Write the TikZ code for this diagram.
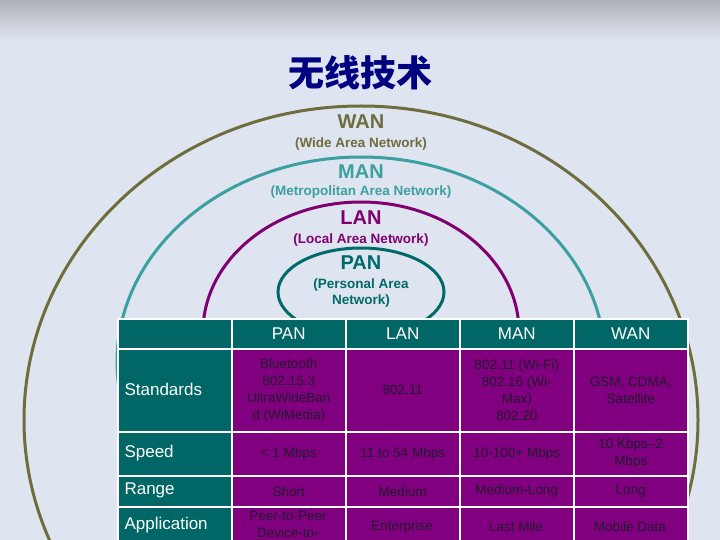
\documentclass[tikz,border=0pt]{standalone}
\usepackage{fontspec}
\setmainfont{Liberation Sans}
\newfontfamily\cjk{Noto Sans CJK SC}
\definecolor{bgc}{RGB}{222,228,240}
\definecolor{navyc}{RGB}{0,0,128}
\definecolor{wanc}{RGB}{110,110,60}
\definecolor{manc}{RGB}{60,160,160}
\definecolor{lanc}{RGB}{128,0,112}
\definecolor{panc}{RGB}{0,105,105}
\definecolor{hdc}{RGB}{0,102,102}
\definecolor{cellc}{RGB}{128,0,128}
\definecolor{cellt}{RGB}{35,25,45}
\newcommand{\mycell}[7]{%
  \node[draw=white,line width=1.5pt,fill=#6,minimum width=#4pt-#2pt,minimum height=#5pt-#3pt,inner sep=0pt,anchor=north west,align=center,ccell] (#1) at (#2,#3) {#7};}
\begin{document}
\begin{tikzpicture}[x=1pt,y=-1pt,
  ring/.style={line width=3pt},
  hd/.style={font=\bfseries\fontsize{20}{22}\selectfont},
  sub/.style={font=\bfseries\fontsize{13.5}{16}\selectfont},
  hcell/.style={text=white,font=\fontsize{17}{19}\selectfont},
  ccell/.style={text=cellt,font={\color{cellt}\fontsize{13.5}{17}\selectfont}}]
\useasboundingbox (0,0) rectangle (720,540);
\fill[bgc] (0,0) rectangle (720,540);
\fill[top color=gray!50!bgc,bottom color=bgc] (0,0) rectangle (720,40);
\node[font=\cjk\bfseries\fontsize{36}{40}\selectfont,text=navyc] (title) at (360,73) {无线技术};
\draw[ring,wanc] (361,420) ellipse (337 and 314);
\draw[ring,manc] (361,362) ellipse (244 and 205);
\draw[ring,lanc] (361,332) ellipse (158 and 130);
\draw[ring,panc] (361,292) ellipse (83 and 44);
\node[hd,text=wanc] (wan) at (361,122) {WAN};
\node[sub,text=wanc] (wans) at (361,144) {(Wide Area Network)};
\node[hd,text=manc] (man) at (361,172) {MAN};
\node[sub,text=manc] (mans) at (361,192) {(Metropolitan Area Network)};
\node[hd,text=lanc] (lan) at (361,218) {LAN};
\node[sub,text=lanc] (lans) at (361,240) {(Local Area Network)};
\node[hd,text=panc] (pan) at (361,263) {PAN};
\node[sub,text=panc,align=center] (pans) at (361,293) {(Personal Area\\Network)};
% header
\mycell{h0}{117}{318}{231}{348}{hdc}{}
\mycell{h1}{231}{318}{345}{348}{hdc}{}
\mycell{h2}{345}{318}{459}{348}{hdc}{}
\mycell{h3}{459}{318}{573}{348}{hdc}{}
\mycell{h4}{573}{318}{687}{348}{hdc}{}
\node[hcell] at (h1) {PAN};
\node[hcell] at (h2) {LAN};
\node[hcell] at (h3) {MAN};
\node[hcell] at (h4) {WAN};
% rows
\mycell{r1}{117}{348}{231}{431}{hdc}{}
\mycell{r1a}{231}{348}{345}{431}{cellc}{Bluetooth\\802.15.3\\UltraWideBan\\d (WiMedia)}
\mycell{r1b}{345}{348}{459}{431}{cellc}{802.11}
\mycell{r1c}{459}{348}{573}{431}{cellc}{802.11 (Wi-Fi)\\802.16 (Wi-\\Max)\\802.20}
\mycell{r1d}{573}{348}{687}{431}{cellc}{GSM, CDMA,\\Satellite}
\mycell{r2}{117}{431}{231}{475}{hdc}{}
\mycell{r2a}{231}{431}{345}{475}{cellc}{< 1 Mbps}
\mycell{r2b}{345}{431}{459}{475}{cellc}{11 to 54 Mbps}
\mycell{r2c}{459}{431}{573}{475}{cellc}{10-100+ Mbps}
\mycell{r2d}{573}{431}{687}{475}{cellc}{10 Kbps--2\\Mbps}
\mycell{r3}{117}{475}{231}{506}{hdc}{}
\mycell{r3a}{231}{475}{345}{506}{cellc}{Short}
\mycell{r3b}{345}{475}{459}{506}{cellc}{Medium}
\mycell{r3c}{459}{475}{573}{506}{cellc}{Medium-Long}
\mycell{r3d}{573}{475}{687}{506}{cellc}{Long}
\begin{scope}
\clip (0,0) rectangle (720,540);
\mycell{r4}{117}{506}{231}{550}{hdc}{}
\mycell{r4a}{231}{506}{345}{550}{cellc}{}
\mycell{r4b}{345}{506}{459}{550}{cellc}{}
\mycell{r4c}{459}{506}{573}{550}{cellc}{}
\mycell{r4d}{573}{506}{687}{550}{cellc}{}
\node[ccell,align=center,anchor=north] (t4a) at (288,508) {Peer-to-Peer\\Device-to-};
\end{scope}
\node[ccell] (t4b) at (402,527) {Enterprise};
\node[ccell] (t4c) at (516,527) {Last Mile};
\node[ccell] (t4d) at (630,527) {Mobile Data};
% row labels
\node[hcell,anchor=west] (l1) at (121,389) {Standards};
\node[hcell,anchor=west] (l2) at (121,453) {Speed};
\node[hcell,anchor=west] (l3) at (121,490) {Range};
\node[hcell,anchor=west] (l4) at (121,525) {Application};
\end{tikzpicture}
\end{document}
